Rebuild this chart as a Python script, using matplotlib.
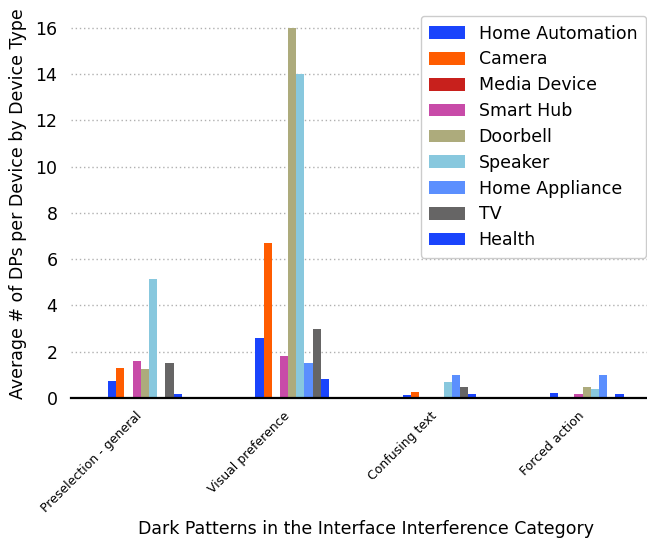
import numpy as np
import matplotlib
matplotlib.use("Agg")
import matplotlib.pyplot as plt

categories = ["Preselection - general", "Visual preference", "Confusing text", "Forced action"]
series_names = ["Home Automation", "Camera", "Media Device", "Smart Hub", "Doorbell",
                "Speaker", "Home Appliance", "TV", "Health"]
home_automation = [0.75, 2.6, 0.13, 0.22]
camera = [1.3, 6.7, 0.26, 0.0]
media_device = [0.0, 0.0, 0.0, 0.0]
smart_hub = [1.6, 1.8, 0.0, 0.18]
doorbell = [1.25, 16.0, 0.0, 0.48]
speaker = [5.15, 14.0, 0.7, 0.4]
home_appliance = [0.0, 1.5, 1.0, 1.0]
tv = [1.5, 3.0, 0.48, 0.0]
health = [0.18, 0.8, 0.18, 0.18]
colors = ["#1a44fc", "#ff5c00", "#c8201c", "#c84ba8", "#adab7c",
          "#88c8de", "#5b8ffe", "#666565", "#1a44fc"]

values = [home_automation, camera, media_device, smart_hub, doorbell,
          speaker, home_appliance, tv, health]

fig = plt.figure(figsize=(6.47, 5.44), dpi=100)
ax = fig.add_axes([0.1102, 0.2684, 0.9104, 0.7142])

x = np.arange(len(categories))
n = len(series_names)
w = 0.5 / n
for i, (name, vals, c) in enumerate(zip(series_names, values, colors)):
    ax.bar(x + (i - (n - 1) / 2) * w, vals, width=w, color=c, label=name, zorder=3)

ax.set_xlim(-0.5, 3.5)
ax.set_ylim(0, 16.8)
ax.set_yticks(np.arange(0, 17, 2))
ax.yaxis.grid(True, linestyle=(0, (1, 2)), color="#b0b0b0", linewidth=1.0, zorder=0)
ax.set_axisbelow(True)
for s in ["top", "right", "left"]:
    ax.spines[s].set_visible(False)
ax.spines["bottom"].set_color("black")
ax.spines["bottom"].set_linewidth(1.6)
ax.spines["bottom"].set_zorder(4)
ax.tick_params(axis="y", length=0, labelsize=12.5, pad=10)
ax.tick_params(axis="x", length=0, labelsize=9, pad=8)
ax.set_xticks(x)
ax.set_xticklabels(categories, rotation=45, ha="right")
ax.set_ylabel("Average # of DPs per Device by Device Type", fontsize=12.5, labelpad=6)
ax.set_xlabel("Dark Patterns in the Interface Interference Category", fontsize=12.5, labelpad=4)

leg = ax.legend(loc="upper right", bbox_to_anchor=(646 / 647, 1 - 16 / 544),
                bbox_transform=fig.transFigure, borderaxespad=0, fontsize=12.5,
                frameon=True, fancybox=True, framealpha=1, edgecolor="#cccccc",
                handlelength=2.05, handleheight=0.75, borderpad=0.5,
                labelspacing=0.45)

fig.savefig("out.png", dpi=100)
